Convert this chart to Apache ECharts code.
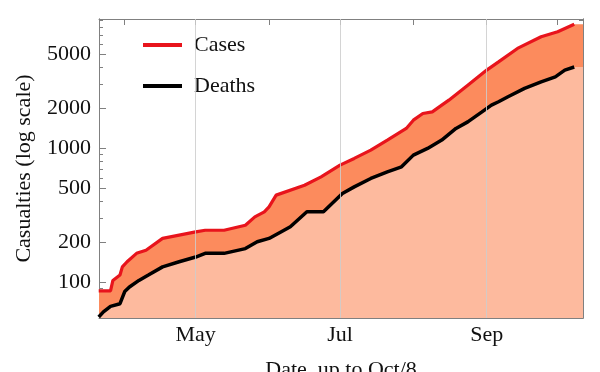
<!DOCTYPE html>
<html>
<head>
<meta charset="utf-8">
<script src="https://cdn.jsdelivr.net/npm/echarts@6/dist/echarts.min.js"></script>
<style>html,body{margin:0;padding:0;background:#fff}#c{width:600px;height:372px}</style>
</head>
<body>
<div id="c"></div>
<script>
const caseDates = ['2014-03-21','2014-03-26','2014-03-27','2014-03-30','2014-03-31','2014-04-02','2014-04-06','2014-04-10','2014-04-17','2014-05-01','2014-05-05','2014-05-13','2014-05-22','2014-05-26','2014-05-30','2014-06-01','2014-06-04','2014-06-16','2014-06-23','2014-07-01','2014-07-07','2014-07-14','2014-07-21','2014-07-29','2014-08-01','2014-08-05','2014-08-09','2014-08-13','2014-08-16','2014-08-24','2014-09-01','2014-09-06','2014-09-14','2014-09-24','2014-10-01','2014-10-08'];
const caseValues = [86,86,103,113,130,142,164,173,212,237,244,244,266,307,335,365,446,529,611,747,838,966,1148,1403,1617,1815,1866,2095,2281,2952,3822,4406,5548,6775,7388,8399];
const deathDates = ['2014-03-21','2014-03-23','2014-03-26','2014-03-30','2014-04-01','2014-04-03','2014-04-07','2014-04-11','2014-04-17','2014-04-24','2014-05-01','2014-05-05','2014-05-13','2014-05-22','2014-05-27','2014-06-01','2014-06-06','2014-06-10','2014-06-17','2014-06-24','2014-07-02','2014-07-07','2014-07-14','2014-07-21','2014-07-27','2014-08-01','2014-08-07','2014-08-13','2014-08-19','2014-08-24','2014-08-30','2014-09-03','2014-09-06','2014-09-10','2014-09-17','2014-09-24','2014-09-30','2014-10-04','2014-10-08'];
const deathValues = [55,60,66,69,85,92,103,113,130,142,154,164,164,178,200,212,237,259,335,335,459,514,594,666,725,887,995,1148,1403,1571,1866,2095,2218,2416,2790,3126,3407,3822,4033];
const yTickLabels = [100,200,500,1000,2000,5000];
const yMinorTicks = [60,70,80,90,300,400,600,700,800,900,3000,4000,6000,7000,8000,9000];
const xLabelDates = ['2014-05-01','2014-07-01','2014-09-01'];
const xMinorDates = ['2014-04-01','2014-06-01','2014-08-01','2014-10-01'];
const monthNames = ['Jan','Feb','Mar','Apr','May','Jun','Jul','Aug','Sep','Oct','Nov','Dec'];

const DAY = 86400000;
const t = s => Date.parse(s + 'T00:00:00Z');
const X_MIN = t('2014-03-21') + 0.13 * DAY;
const X_MAX = t('2014-10-11') + 0.7 * DAY;
const Y_MIN = 54, Y_MAX = 9200;
const FONT = '"Liberation Serif","Times New Roman",serif';
const FRAME = '#808080';

const casePairs = caseDates.map((d, i) => [t(d), caseValues[i]]);
const deathPairs = deathDates.map((d, i) => [t(d), deathValues[i]]);
// fill continues to the right edge of the frame
const caseFill = casePairs.concat([[X_MAX, caseValues[caseValues.length - 1]]]);
const deathFill = deathPairs.concat([[X_MAX, deathValues[deathValues.length - 1]]]);
const xLabelTs = xLabelDates.map(t);
const xTickTs = xLabelDates.concat(xMinorDates).map(t);

function xAxisDef(pos, ticks, labels, len) {
  return {
    type: 'value', position: pos, min: X_MIN, max: X_MAX,
    axisLine: { show: true, lineStyle: { color: FRAME, width: 1 } },
    axisTick: { show: true, inside: true, length: len, customValues: ticks, lineStyle: { color: FRAME } },
    axisLabel: labels ? {
      show: true, customValues: labels, fontFamily: FONT, fontSize: 22, color: '#111', margin: 6,
      formatter: v => monthNames[new Date(v).getUTCMonth()]
    } : { show: false },
    splitLine: { show: false }
  };
}
function yAxisDef(pos, ticks, labels, len) {
  return {
    type: 'log', logBase: 10, position: pos, min: Y_MIN, max: Y_MAX,
    axisLine: { show: true, lineStyle: { color: FRAME, width: 1 } },
    axisTick: { show: true, inside: true, length: len, customValues: ticks, lineStyle: { color: FRAME } },
    axisLabel: labels ? {
      show: true, customValues: labels, fontFamily: FONT, fontSize: 22, color: '#111', margin: 8,
      formatter: v => String(Math.round(v))
    } : { show: false },
    splitLine: { show: false }
  };
}

const xAxes = [
  xAxisDef('bottom', xTickTs, xLabelTs, 6),
  xAxisDef('top', xTickTs, null, 6)
];
xAxes[0].name = 'Date, up to Oct/8';
xAxes[0].nameLocation = 'middle';
xAxes[0].nameGap = 41;
xAxes[0].nameTextStyle = { fontFamily: FONT, fontSize: 22, color: '#111' };

const yAxes = [
  yAxisDef('left', yTickLabels, yTickLabels, 7),
  yAxisDef('right', yTickLabels, null, 7),
  yAxisDef('left', yMinorTicks, null, 4),
  yAxisDef('right', yMinorTicks, null, 4)
];
yAxes[0].name = 'Casualties (log scale)';
yAxes[0].nameLocation = 'middle';
yAxes[0].nameGap = 64;
yAxes[0].nameTextStyle = { fontFamily: FONT, fontSize: 22, color: '#111' };

const chart = echarts.init(document.getElementById('c'), null, { renderer: 'canvas' });
chart.setOption({
  animation: false,
  backgroundColor: '#fff',
  grid: { left: 99, right: 17, top: 19, bottom: 54, containLabel: false, outerBoundsMode: 'none' },
  legend: {
    data: ['Cases', 'Deaths'], orient: 'vertical', left: 138, top: 29,
    icon: 'rect', itemWidth: 39, itemHeight: 4, itemGap: 19,
    textStyle: { fontFamily: FONT, fontSize: 22, color: '#111', lineHeight: 22, padding: [0, 0, 0, 7] }
  },
  xAxis: xAxes,
  yAxis: yAxes,
  series: [
    { name: 'cases-fill', type: 'line', data: caseFill, showSymbol: false, symbol: 'none', z: 1,
      lineStyle: { width: 0 }, areaStyle: { color: '#FC8B5D', opacity: 1, origin: 'start' }, silent: true },
    { name: 'deaths-fill', type: 'line', data: deathFill, showSymbol: false, symbol: 'none', z: 1,
      lineStyle: { width: 0 }, areaStyle: { color: '#FDBA9E', opacity: 1, origin: 'start' }, silent: true },
    { name: 'grid', type: 'line', data: [], z: 2, silent: true,
      markLine: { symbol: 'none', silent: true, label: { show: false },
        lineStyle: { color: 'rgba(205,205,205,0.85)', width: 1, type: 'solid' },
        data: xLabelTs.map(v => ({ xAxis: v })) } },
    { name: 'Cases', type: 'line', data: casePairs, showSymbol: false, symbol: 'none', z: 3,
      itemStyle: { color: '#E8141C' }, lineStyle: { color: '#E8141C', width: 3.2 } },
    { name: 'Deaths', type: 'line', data: deathPairs, showSymbol: false, symbol: 'none', z: 3,
      itemStyle: { color: '#000' }, lineStyle: { color: '#000', width: 3.5 } }
  ]
});
</script>
</body>
</html>
